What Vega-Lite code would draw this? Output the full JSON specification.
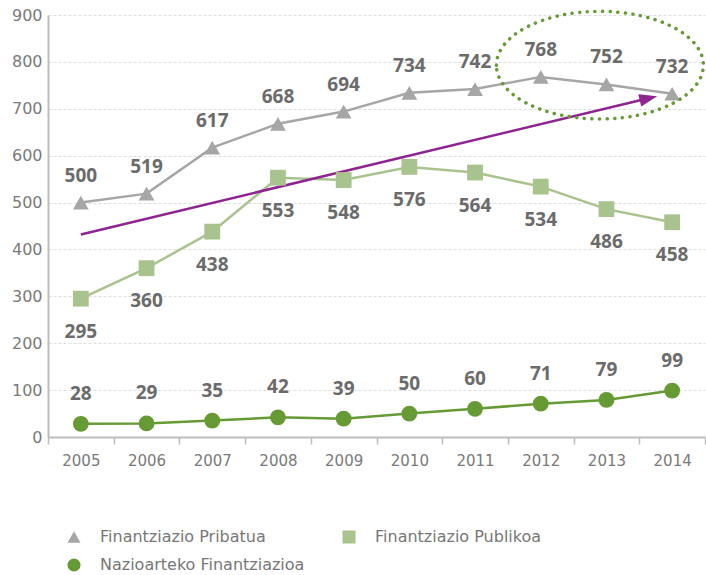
{
  "$schema": "https://vega.github.io/schema/vega-lite/v6.json",
  "width": 657,
  "height": 422,
  "autosize": {"type": "none"},
  "padding": {"left": 48, "top": 15, "right": 1, "bottom": 138},
  "background": "white",
  "config": {
    "view": {"stroke": null},
    "font": "Open Sans",
    "axis": {"labelFont": "DejaVu Sans", "labelColor": "#7a7a7a", "labelFontSize": 16, "domainColor": "#bdbdbd", "domainWidth": 2, "tickColor": "#bdbdbd", "title": null},
    "legend": {"labelFont": "DejaVu Sans"}
  },
  "datasets": {
    "series": [
      {"year": 2005, "value": 500, "series": "Finantziazio Pribatua"},
      {"year": 2006, "value": 519, "series": "Finantziazio Pribatua"},
      {"year": 2007, "value": 617, "series": "Finantziazio Pribatua"},
      {"year": 2008, "value": 668, "series": "Finantziazio Pribatua"},
      {"year": 2009, "value": 694, "series": "Finantziazio Pribatua"},
      {"year": 2010, "value": 734, "series": "Finantziazio Pribatua"},
      {"year": 2011, "value": 742, "series": "Finantziazio Pribatua"},
      {"year": 2012, "value": 768, "series": "Finantziazio Pribatua"},
      {"year": 2013, "value": 752, "series": "Finantziazio Pribatua"},
      {"year": 2014, "value": 732, "series": "Finantziazio Pribatua"},
      {"year": 2005, "value": 295, "series": "Finantziazio Publikoa"},
      {"year": 2006, "value": 360, "series": "Finantziazio Publikoa"},
      {"year": 2007, "value": 438, "series": "Finantziazio Publikoa"},
      {"year": 2008, "value": 553, "series": "Finantziazio Publikoa"},
      {"year": 2009, "value": 548, "series": "Finantziazio Publikoa"},
      {"year": 2010, "value": 576, "series": "Finantziazio Publikoa"},
      {"year": 2011, "value": 564, "series": "Finantziazio Publikoa"},
      {"year": 2012, "value": 534, "series": "Finantziazio Publikoa"},
      {"year": 2013, "value": 486, "series": "Finantziazio Publikoa"},
      {"year": 2014, "value": 458, "series": "Finantziazio Publikoa"},
      {"year": 2005, "value": 28, "series": "Nazioarteko Finantziazioa"},
      {"year": 2006, "value": 29, "series": "Nazioarteko Finantziazioa"},
      {"year": 2007, "value": 35, "series": "Nazioarteko Finantziazioa"},
      {"year": 2008, "value": 42, "series": "Nazioarteko Finantziazioa"},
      {"year": 2009, "value": 39, "series": "Nazioarteko Finantziazioa"},
      {"year": 2010, "value": 50, "series": "Nazioarteko Finantziazioa"},
      {"year": 2011, "value": 60, "series": "Nazioarteko Finantziazioa"},
      {"year": 2012, "value": 71, "series": "Nazioarteko Finantziazioa"},
      {"year": 2013, "value": 79, "series": "Nazioarteko Finantziazioa"},
      {"year": 2014, "value": 99, "series": "Nazioarteko Finantziazioa"}
    ],
    "trend": [
      {"year": 2005, "value": 432},
      {"year": 2013.64, "value": 722.5}
    ],
    "arrowhead": [
      {"year": 2013.64, "value": 722.5}
    ],
    "highlight": [
      {"year": 2012.9, "value": 793}
    ]
  },
  "encoding": {
    "x": {
      "field": "year", "type": "quantitative",
      "scale": {"domain": [2004.5, 2014.5], "nice": false, "zero": false},
      "axis": {
        "values": [2004.5, 2005.5, 2006.5, 2007.5, 2008.5, 2009.5, 2010.5, 2011.5, 2012.5, 2013.5, 2014.5],
        "labelExpr": "datum.value < 2014.4 ? format(datum.value + 0.5, 'd') : ''",
        "labelOffset": 32.85,
        "labelOverlap": false,
        "labelBound": false,
        "labelFlush": false,
        "labelPadding": 9,
        "labelFontSize": 15,
        "tickSize": 7,
        "tickWidth": 1.5,
        "grid": false
      }
    },
    "y": {
      "field": "value", "type": "quantitative",
      "scale": {"domain": [0, 900], "nice": false},
      "axis": {
        "values": [0, 100, 200, 300, 400, 500, 600, 700, 800, 900],
        "ticks": false,
        "labelPadding": 6,
        "grid": true,
        "gridColor": "#dddddd",
        "gridDash": [3, 2],
        "gridWidth": 1
      }
    }
  },
  "layer": [
    {
      "data": {"name": "series"},
      "mark": {"type": "line", "strokeWidth": 2.5},
      "encoding": {
        "color": {
          "field": "series", "type": "nominal",
          "scale": {"domain": ["Finantziazio Pribatua", "Finantziazio Publikoa", "Nazioarteko Finantziazioa"], "range": ["#a6a6a6", "#a9c38e", "#659a35"]}
        }
      }
    },
    {
      "data": {"name": "trend"},
      "mark": {"type": "line", "color": "#8e2490", "strokeWidth": 2.5},
      "encoding": {}
    },
    {
      "data": {"name": "arrowhead"},
      "mark": {"type": "point", "shape": "M1,0L-1,-0.7L-1,0.7Z", "size": 324, "angle": -13.5, "filled": true, "color": "#8e2490", "opacity": 1},
      "encoding": {}
    },
    {
      "data": {"name": "series"},
      "mark": {"type": "point", "filled": true, "opacity": 1, "size": 250},
      "encoding": {
        "color": {
          "field": "series", "type": "nominal",
          "scale": {"domain": ["Finantziazio Pribatua", "Finantziazio Publikoa", "Nazioarteko Finantziazioa"], "range": ["#a6a6a6", "#a9c38e", "#659a35"]},
          "legend": {
            "title": null, "orient": "none", "legendX": 18, "legendY": 514, "direction": "horizontal", "columns": 2,
            "columnPadding": 36, "rowPadding": 12, "labelFontSize": 16, "labelColor": "#777777", "labelLimit": 400,
            "symbolSize": 170, "labelOffset": 18, "symbolStrokeWidth": 0, "symbolOpacity": 1
          }
        },
        "shape": {
          "field": "series", "type": "nominal",
          "scale": {"domain": ["Finantziazio Pribatua", "Finantziazio Publikoa", "Nazioarteko Finantziazioa"], "range": ["triangle-up", "square", "circle"]}
        }
      }
    },
    {
      "data": {"name": "series"},
      "transform": [{"filter": "datum.series === 'Finantziazio Pribatua'"}],
      "mark": {"type": "text", "dy": -27, "fontSize": 19, "fontWeight": "bold", "color": "#6b6b6b"},
      "encoding": {"text": {"field": "value", "type": "quantitative"}}
    },
    {
      "data": {"name": "series"},
      "transform": [{"filter": "datum.series === 'Finantziazio Publikoa'"}],
      "mark": {"type": "text", "dy": 33, "fontSize": 19, "fontWeight": "bold", "color": "#6b6b6b"},
      "encoding": {"text": {"field": "value", "type": "quantitative"}}
    },
    {
      "data": {"name": "series"},
      "transform": [{"filter": "datum.series === 'Nazioarteko Finantziazioa'"}],
      "mark": {"type": "text", "dy": -30, "fontSize": 19, "fontWeight": "bold", "color": "#6b6b6b"},
      "encoding": {"text": {"field": "value", "type": "quantitative"}}
    },
    {
      "data": {"name": "highlight"},
      "mark": {"type": "point", "shape": "M-1,0A1,0.52,0,1,1,1,0A1,0.52,0,1,1,-1,0Z", "size": 42849, "filled": false, "stroke": "#659a35", "strokeWidth": 3.5, "strokeDash": [0.1, 7.5], "strokeCap": "round", "opacity": 1},
      "encoding": {}
    }
  ]
}
